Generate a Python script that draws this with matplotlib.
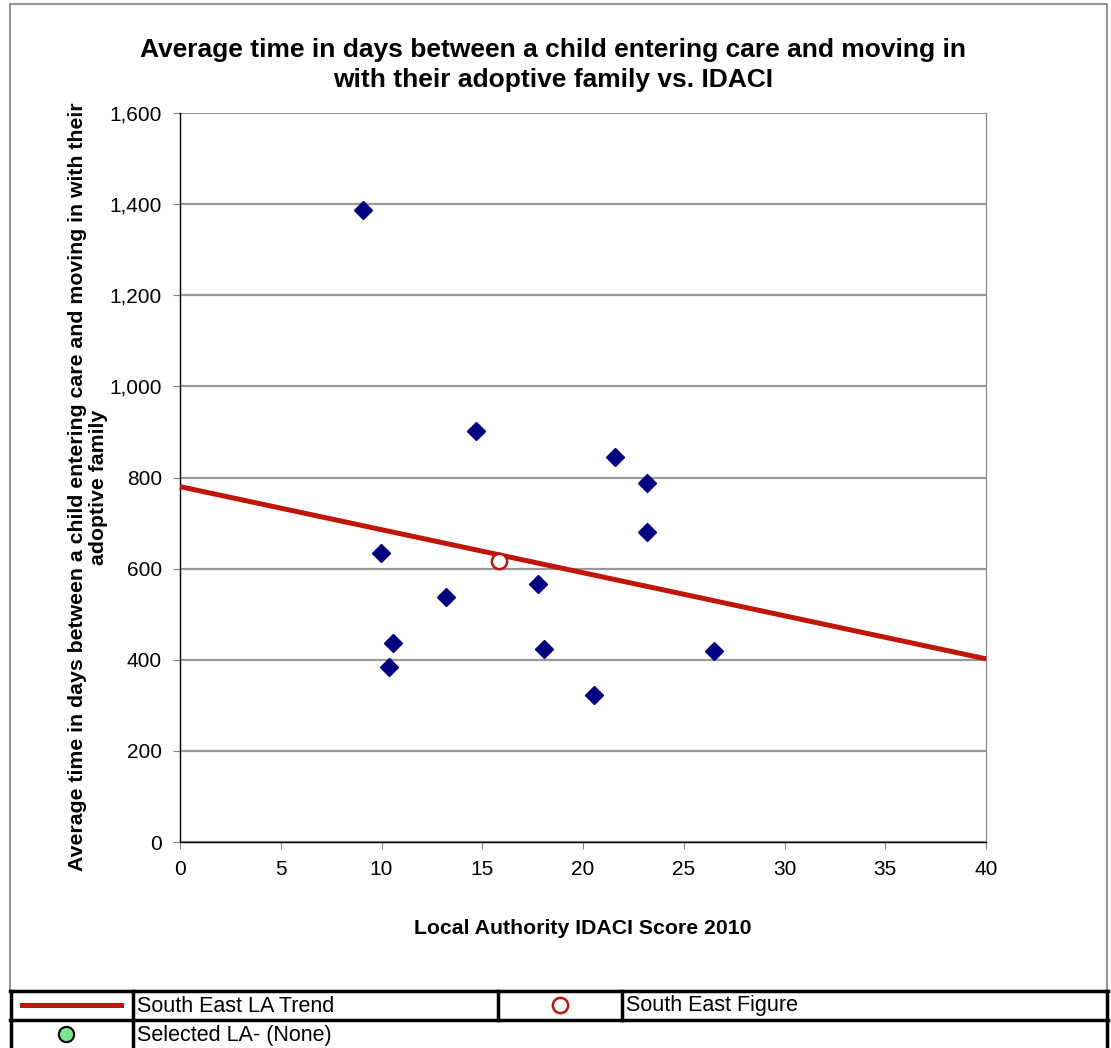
import matplotlib.pyplot as plt
from matplotlib.lines import Line2D

plt.rcParams['font.family'] = ['Liberation Sans', 'DejaVu Sans']

# IDACI score vs average days to adoptive placement, per local authority
idaci = [9.09, 14.68, 21.58, 23.19, 23.19, 9.98, 13.19, 17.78, 10.58, 10.39, 18.07, 20.57, 26.48]
days = [1387, 902, 845, 788, 681, 634, 538, 567, 437, 383, 423, 323, 419]

# South East regional figure
se_idaci = [15.84]
se_days = [617]

# South East LA trend line end points
trend_x = [0, 40]
trend_y = [780, 402]

xticks = [0, 5, 10, 15, 20, 25, 30, 35, 40]
yticks = [0, 200, 400, 600, 800, 1000, 1200, 1400, 1600]

W, H = 1111, 1048
fig = plt.figure(figsize=(W / 100, H / 100), dpi=100)

def fx(px):
    return px / W

def fy(py):
    return 1 - py / H

ax = fig.add_axes([fx(180), fy(842), fx(986) - fx(180), fy(113) - fy(842)])
ax.set_xlim(0, 40)
ax.set_ylim(0, 1600)
ax.set_xticks(xticks)
ax.set_yticks(yticks)
ax.set_yticklabels([f'{v:,}' for v in yticks])
ax.tick_params(labelsize=15, length=5, color='#808080', pad=8)
ax.grid(axis='y', color='#999999', linewidth=1.6)
ax.set_axisbelow(True)
ax.spines['right'].set_color('#808080')
ax.spines['top'].set_visible(False)
for side in ['left', 'bottom']:
    ax.spines[side].set_color('black')
    ax.spines[side].set_linewidth(1)

ax.plot(trend_x, trend_y, color='#C0160A', linewidth=3.6, solid_capstyle='butt',
        zorder=3, clip_on=False)
ax.plot(idaci, days, linestyle='none', marker='D', markersize=9.5,
        color='#000080', zorder=4)
ax.plot(se_idaci, se_days, linestyle='none', marker='o', markersize=11,
        markerfacecolor='white', markeredgecolor='#C0160A', markeredgewidth=1.8,
        zorder=5)

fig.text(fx(553), fy(65), 'Average time in days between a child entering care and moving in\n'
         'with their adoptive family vs. IDACI',
         ha='center', va='center', fontsize=19, fontweight='bold', linespacing=1.3)
ax.set_xlabel('Local Authority IDACI Score 2010', fontsize=15.3, fontweight='bold',
              labelpad=29)
fig.text(fx(88), fy(487),
         'Average time in days between a child entering care and moving in with their\n'
         'adoptive family',
         ha='center', va='center', rotation=90, fontsize=15.3, fontweight='bold',
         linespacing=1.15)

# outer chart border
fig.add_artist(plt.Rectangle((fx(10), fy(991)), fx(1107) - fx(10), fy(4) - fy(991),
                             transform=fig.transFigure, fill=False,
                             edgecolor='#808080', linewidth=1.2))

# legend table
def hline(y, x0, x1):
    fig.add_artist(Line2D([fx(x0), fx(x1)], [fy(y), fy(y)], color='black', linewidth=2.5))

def vline(x, y0, y1):
    fig.add_artist(Line2D([fx(x), fx(x)], [fy(y0), fy(y1)], color='black', linewidth=2.5))

hline(991, 10, 1108)
hline(1020, 10, 1108)
vline(11, 991, 1048)
vline(1107, 991, 1048)
vline(133, 991, 1048)
vline(498, 991, 1020)
vline(622, 991, 1020)

fig.add_artist(Line2D([fx(22), fx(121)], [fy(1005), fy(1005)], color='#C0160A',
                      linewidth=3.6))
fig.add_artist(Line2D([fx(560)], [fy(1005)], marker='o', markersize=11,
                      markerfacecolor='white', markeredgecolor='#C0160A',
                      markeredgewidth=1.8))
fig.add_artist(Line2D([fx(66)], [fy(1034)], marker='o', markersize=11,
                      markerfacecolor='#77E68C', markeredgecolor='black',
                      markeredgewidth=1.5))
fig.text(fx(137), fy(1006), 'South East LA Trend', va='center', fontsize=15.5)
fig.text(fx(626), fy(1006), 'South East Figure', va='center', fontsize=15.5)
fig.text(fx(137), fy(1035), 'Selected LA- (None)', va='center', fontsize=15.5)

fig.savefig('out.png', dpi=100)
